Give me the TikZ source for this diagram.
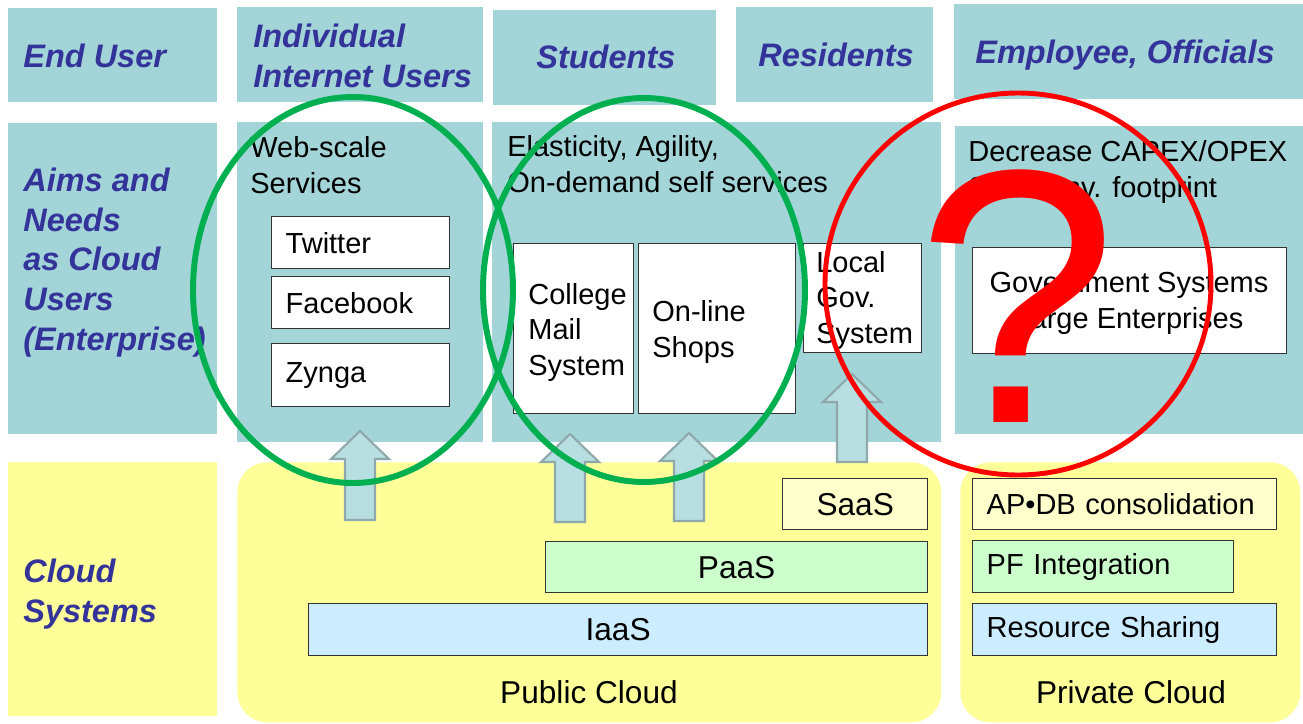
\documentclass[tikz,border=0pt]{standalone}
\usepackage{fontspec}
\setmainfont{Liberation Sans}
\definecolor{aqua}{RGB}{162,212,216}
\definecolor{navy}{RGB}{51,51,153}
\definecolor{cloudyellow}{RGB}{255,255,153}
\definecolor{saasfill}{RGB}{255,255,204}
\definecolor{paasfill}{RGB}{204,255,204}
\definecolor{iaasfill}{RGB}{204,236,255}
\definecolor{liftfill}{RGB}{183,222,224}
\definecolor{liftline}{RGB}{143,168,172}
\definecolor{ringgreen}{RGB}{0,176,80}
\newcommand{\headfont}{\fontsize{18.5}{22.5}\selectfont\bfseries\itshape}
\newcommand{\bodyfont}{\fontsize{16.5}{20}\selectfont}
\newcommand{\layerfont}{\fontsize{18}{21}\selectfont}
\begin{document}
\begin{tikzpicture}[x=0.02cm, y=-0.02cm,
	band/.style={fill=aqua, draw=none, anchor=north west, inner sep=0pt},
	cloud/.style={fill=cloudyellow, draw=none, anchor=north west, inner sep=0pt, rounded corners=0.6cm},
	head/.style={anchor=base west, inner sep=0pt, align=left, text=navy, font=\headfont},
	note/.style={anchor=base west, inner sep=0pt, align=left, font=\bodyfont},
	wbox/.style={draw=black!80, line width=0.8pt, fill=white, anchor=north west, inner xsep=0.28cm, inner ysep=0pt, align=left, font=\bodyfont},
	layer/.style={draw=black!80, line width=0.8pt, anchor=north west, inner xsep=0.28cm, inner ysep=0pt},
	lift/.style={fill=liftfill, draw=liftline, line width=1.2pt},
	ring/.style={line width=3.4pt}]
	\path[use as bounding box, fill=white] (0,0) rectangle (1303,724);

	% row of users
	\node (eu) at (8,8)	[band, minimum width=4.18cm, minimum height=1.88cm]	{};
	\node (iu) at (237,7)	[band, minimum width=4.92cm, minimum height=1.90cm]	{};
	\node (st) at (493,10)	[band, minimum width=4.46cm, minimum height=1.90cm]	{};
	\node (rs) at (736,7)	[band, minimum width=3.94cm, minimum height=1.90cm]	{};
	\node (eo) at (954,4)	[band, minimum width=6.98cm, minimum height=1.90cm]	{};

	% row of aims and needs
	\node (am) at (8,123)	[band, minimum width=4.18cm, minimum height=6.22cm]	{};
	\node (ws) at (237,122)	[band, minimum width=4.92cm, minimum height=6.40cm]	{};
	\node (ea) at (492,122)	[band, minimum width=8.98cm, minimum height=6.40cm]	{};
	\node (dc) at (955,126)	[band, minimum width=6.96cm, minimum height=6.16cm]	{};

	% row of cloud systems
	\node (cs) at (8,462)	[band, fill=cloudyellow, minimum width=4.18cm, minimum height=5.08cm]	{};
	\node (pub) at (237,462)	[cloud, minimum width=14.08cm, minimum height=5.20cm]	{};
	\node (prv) at (960,462)	[cloud, minimum width=6.80cm, minimum height=5.20cm]	{};

	% multi-line texts sit on the baseline of their last line
	\node (euT) at (23,67)	[head]	{End User};
	\node (iuT) at (253,87)	[head]	{Individual\\Internet Users};
	\node (stT) at (536,68)	[head]	{Students};
	\node (rsT) at (758,66)	[head]	{Residents};
	\node (eoT) at (975,63)	[head]	{Employee, Officials};
	\node (amT) at (23,350)	[head]	{Aims and\\Needs\\as Cloud\\Users\\(Enterprise)};
	\node (csT) at (23,622)	[head]	{Cloud\\Systems};

	\node (wsT) at (250,193)	[note]	{Web-scale\\Services};
	\node (eaT) at (507,192)	[note]	{Elasticity, Agility,\\On-demand self services};
	\node (dcT) at (968,197)	[note]	{Decrease CAPEX/OPEX\\Small env. footprint};

	\node (tw) at (271,216)	[wbox, text width=3.00cm, minimum height=1.04cm]	{Twitter};
	\node (fb) at (271,276)	[wbox, text width=3.00cm, minimum height=1.04cm]	{Facebook};
	\node (zy) at (271,343)	[wbox, text width=3.00cm, minimum height=1.26cm]	{Zynga};
	\node (cm) at (513,243)	[wbox, minimum width=2.40cm, minimum height=3.40cm]	{};
	\node (os) at (638,243)	[wbox, minimum width=3.14cm, minimum height=3.40cm]	{};
	\node (lg) at (803,243)	[wbox, minimum width=2.36cm, minimum height=2.18cm]	{};
	\node (gs) at (972,247)	[wbox, minimum width=6.28cm, minimum height=2.12cm]	{};
	\node (cmT) at (528,375)	[note]	{College\\Mail\\System};
	\node (osT) at (652,357)	[note]	{On-line\\Shops};
	\node (lgT) at (816,343)	[note]	{Local\\Gov.\\System};
	\node (gsT) at (1129,328)	[note, anchor=base, align=center]	{Government Systems\\Large Enterprises};

	\node (saas) at (782,478)	[layer, fill=saasfill, minimum width=2.90cm, minimum height=1.02cm, font=\layerfont]	{SaaS};
	\node (paas) at (545,541)	[layer, fill=paasfill, minimum width=7.64cm, minimum height=1.02cm, font=\layerfont]	{PaaS};
	\node (iaas) at (308,603)	[layer, fill=iaasfill, minimum width=12.38cm, minimum height=1.04cm, font=\layerfont]	{IaaS};
	\node (apdb) at (972,478)	[layer, fill=saasfill, text width=5.52cm, minimum height=1.02cm, align=left, font=\bodyfont]	{AP•DB consolidation};
	\node (pfi) at (972,540)	[layer, fill=paasfill, text width=4.66cm, minimum height=1.04cm, align=left, font=\bodyfont]	{PF Integration};
	\node (rsh) at (972,603)	[layer, fill=iaasfill, text width=5.52cm, minimum height=1.04cm, align=left, font=\bodyfont]	{Resource Sharing};

	\node (pubT) at (589,703)	[anchor=base, inner sep=0pt, font=\layerfont]	{Public Cloud};
	\node (prvT) at (1131,703)	[anchor=base, inner sep=0pt, font=\layerfont]	{Private Cloud};

	% block arrows up from the public cloud
	\draw[lift] (345,520) -- (345,459) -- (331,459) -- (360,431) -- (389,459) -- (375,459) -- (375,520) -- cycle;
	\draw[lift] (555,522) -- (555,462) -- (541,462) -- (570,434) -- (599,462) -- (585,462) -- (585,522) -- cycle;
	\draw[lift] (674,521) -- (674,461) -- (660,461) -- (689,433) -- (718,461) -- (704,461) -- (704,521) -- cycle;
	\draw[lift] (837,462) -- (837,402) -- (823,402) -- (852,374) -- (881,402) -- (867,402) -- (867,462) -- cycle;

	\draw[ring, draw=ringgreen] (353,290) ellipse [x radius=160, y radius=193];
	\draw[ring, draw=ringgreen] (644,290) ellipse [x radius=161, y radius=192];
	\draw[ring, draw=red, line width=2.8pt] (1018,284) ellipse [x radius=193, y radius=191];
	\node (qm) at (1017,422)	[anchor=base, inner sep=0pt, text=red, font=\fontsize{206}{206}\selectfont]	{?};
\end{tikzpicture}
\end{document}
